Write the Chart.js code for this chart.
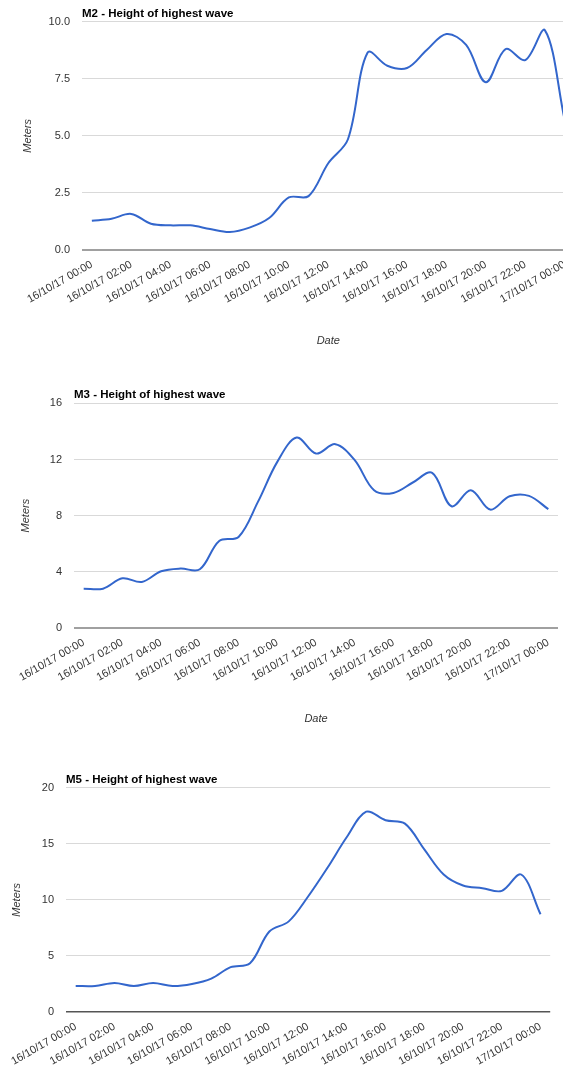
<!DOCTYPE html>
<html>
<head>
<meta charset="utf-8">
<style>
html, body { margin: 0; padding: 0; background: #fff; overflow: hidden; width: 563px; height: 1070px; }
canvas { position: absolute; left: 0; }
</style>
</head>
<body>
<canvas id="m2" width="590" height="350" style="top:0px"></canvas>
<canvas id="m3" width="563" height="347" style="top:381px"></canvas>
<canvas id="m5" width="563" height="346" style="top:766px"></canvas>

<script src="https://cdn.jsdelivr.net/npm/chart.js"></script>
<script>
const hours = [
  '16/10/17 00:00', '16/10/17 01:00', '16/10/17 02:00', '16/10/17 03:00', '16/10/17 04:00',
  '16/10/17 05:00', '16/10/17 06:00', '16/10/17 07:00', '16/10/17 08:00', '16/10/17 09:00',
  '16/10/17 10:00', '16/10/17 11:00', '16/10/17 12:00', '16/10/17 13:00', '16/10/17 14:00',
  '16/10/17 15:00', '16/10/17 16:00', '16/10/17 17:00', '16/10/17 18:00', '16/10/17 19:00',
  '16/10/17 20:00', '16/10/17 21:00', '16/10/17 22:00', '16/10/17 23:00', '17/10/17 00:00'
];

// highest wave, metres, one reading per hour
const m2Waves = [1.28, 1.37, 1.58, 1.15, 1.08, 1.08, 0.92, 0.79, 0.98, 1.4, 2.3, 2.36, 3.8,
                 4.85, 8.65, 8.07, 7.97, 8.76, 9.46, 8.98, 7.35, 8.8, 8.32, 9.62, 5.7];
const m3Waves = [2.8, 2.8, 3.54, 3.28, 4.04, 4.23, 4.18, 6.2, 6.48, 8.98, 11.83, 13.56, 12.42,
                 13.09, 11.95, 9.81, 9.62, 10.36, 11.05, 8.67, 9.81, 8.43, 9.38, 9.41, 8.46];
const m5Waves = [2.32, 2.32, 2.59, 2.32, 2.59, 2.32, 2.5, 2.98, 4.0, 4.35, 7.18, 8.08, 10.3,
                 12.86, 15.6, 17.86, 17.1, 16.8, 14.5, 12.26, 11.28, 11.04, 10.8, 12.26, 8.72];

const m2Ticks = { max: 10, step: 2.5, decimals: 1 };
const m3Ticks = { max: 16, step: 4, decimals: 0 };
const m5Ticks = { max: 20, step: 5, decimals: 0 };

const FONT = '"Liberation Sans", Arial, sans-serif';

// chart title sits at the left edge of the plot, like Google Charts does
const titleAtPlot = {
  id: 'titleAtPlot',
  afterDraw(chart, args, o) {
    const { ctx, chartArea } = chart;
    ctx.save();
    ctx.font = 'bold 11.5px ' + FONT;
    ctx.fillStyle = '#000';
    ctx.textBaseline = 'middle';
    ctx.textAlign = 'left';
    ctx.fillText(o.text, chartArea.left, chartArea.top - 8);
    ctx.restore();
  }
};

function makeChart(id, title, values, ticks, lay) {
  new Chart(document.getElementById(id), {
    type: 'line',
    data: {
      labels: hours,
      datasets: [{
        data: values,
        borderColor: '#3366cc',
        borderWidth: 2,
        pointRadius: 0,
        tension: 0.35,
        fill: false
      }]
    },
    options: {
      responsive: false,
      animation: false,
      devicePixelRatio: 1,
      layout: { padding: { top: lay.top, left: 0, right: lay.right, bottom: 0 } },
      plugins: {
        legend: { display: false },
        tooltip: { enabled: false },
        titleAtPlot: { text: title }
      },
      scales: {
        x: {
          type: 'category',
          offset: true,
          grid: { display: false, drawTicks: false },
          border: { display: false },
          ticks: {
            autoSkip: false,
            minRotation: 30,
            maxRotation: 30,
            padding: 8,
            color: '#333',
            font: { family: FONT, size: 11 },
            callback: function (v, i) { return i % 2 === 0 ? this.getLabelForValue(v) : ''; }
          },
          title: {
            display: true,
            text: 'Date',
            color: '#333',
            font: { family: FONT, size: 11, style: 'italic' },
            padding: { top: 0, bottom: 2.4 }
          },
          afterFit: (s) => { s.height = 100; }
        },
        y: {
          min: 0,
          max: ticks.max,
          border: { display: false },
          grid: {
            drawTicks: false,
            color: (c) => c.tick && c.tick.value === 0 ? lay.baseColor : '#d9d9d9',
            lineWidth: (c) => c.tick && c.tick.value === 0 ? lay.baseWidth : 1
          },
          ticks: {
            stepSize: ticks.step,
            padding: 12,
            color: '#333',
            font: { family: FONT, size: 11 },
            callback: (v) => v.toFixed(ticks.decimals)
          },
          title: {
            display: true,
            text: 'Meters',
            color: '#333',
            font: { family: FONT, size: 11, style: 'italic' },
            padding: { top: lay.metersX - 6.6, bottom: 0 }
          },
          afterFit: (s) => { s.width = lay.left; }
        }
      }
    },
    plugins: [titleAtPlot]
  });
}

makeChart('m2', 'M2 - Height of highest wave', m2Waves, m2Ticks,
  { top: 21.7, left: 82, right: 15.5, metersX: 27.7, baseColor: '#a0a0a0', baseWidth: 2 });
makeChart('m3', 'M3 - Height of highest wave', m3Waves, m3Ticks,
  { top: 22.3, left: 74, right: 3.7, metersX: 25.9, baseColor: '#a0a0a0', baseWidth: 2 });
makeChart('m5', 'M5 - Height of highest wave', m5Waves, m5Ticks,
  { top: 21.7, left: 66, right: 12.8, metersX: 16.9, baseColor: '#555', baseWidth: 1.5 });
</script>
</body>
</html>
